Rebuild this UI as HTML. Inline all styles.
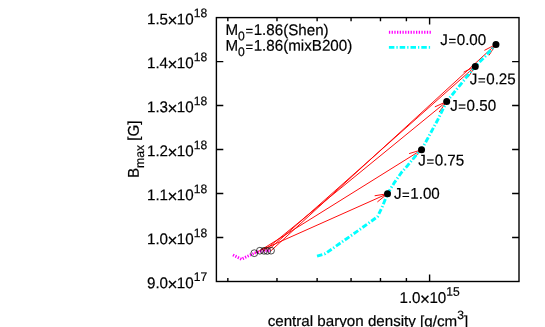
<!DOCTYPE html>
<html><head><meta charset="utf-8"><title>chart</title><style>html,body{margin:0;padding:0;background:#fff}body{width:545px;height:327px;overflow:hidden}</style></head><body>
<svg width="545" height="327" viewBox="0 0 545 327" style="display:block;will-change:transform;text-rendering:geometricPrecision;font-family:'Liberation Sans',sans-serif;font-size:16px">
<rect width="545" height="327" fill="#fff"/>
<g transform="translate(0.15,0.33)">
<path d="M254.15,252.85L387.35,193.4M377.25,201.59L387.35,193.4L374.51,195.45" fill="none" stroke="#ff0000" stroke-width="0.95"/>
<path d="M259.7,250.4L421.4,149.5M412.53,159.00L421.4,149.5L408.97,153.29" fill="none" stroke="#ff0000" stroke-width="0.95"/>
<path d="M263.9,250.5L446.56,101.2M438.97,111.75L446.56,101.2L434.71,106.54" fill="none" stroke="#ff0000" stroke-width="0.95"/>
<path d="M267.1,250.6L475.1,66.05M467.94,76.90L475.1,66.05L463.47,71.87" fill="none" stroke="#ff0000" stroke-width="0.95"/>
<path d="M270.9,250.35L495.8,44.05M488.82,55.02L495.8,44.05L484.27,50.06" fill="none" stroke="#ff0000" stroke-width="0.95"/>
<polyline fill="none" stroke="#ff00ff" stroke-width="2.9" stroke-dasharray="1.3 1.41" points="232.8,254.6 241.3,258.9 246,256.6 254.15,252.85 259.7,250.9 265,250.55 270.9,250.3"/>
<polyline fill="none" stroke="#00ffff" stroke-width="2.9" stroke-linejoin="round" stroke-dasharray="5.5 2 1.3 2" points="316.9,255.7 325,253.4 355.9,231.8 377.4,216.4 379.2,212.6 382.4,205.8 387.35,193.4 394,182.6 401.3,172.2 407.5,165.1 417.6,152.9 421.4,149.5 437.1,120.45 446.56,101.2 475.1,66.05 485,56.1 495.8,44.05"/>
<line x1="388.75" y1="31.97" x2="430.85" y2="31.97" stroke="#ff00ff" stroke-width="2.9" stroke-dasharray="1.3 1.41"/>
<line x1="388.75" y1="47.07" x2="430.05" y2="47.07" stroke="#00ffff" stroke-width="2.9" stroke-dasharray="5.5 2 1.3 2"/>
<circle cx="254.15" cy="252.85" r="3.4" fill="none" stroke="#000" stroke-width="0.7"/>
<circle cx="259.7" cy="250.4" r="3.4" fill="none" stroke="#000" stroke-width="0.7"/>
<circle cx="263.9" cy="250.5" r="3.4" fill="none" stroke="#000" stroke-width="0.7"/>
<circle cx="267.1" cy="250.6" r="3.4" fill="none" stroke="#000" stroke-width="0.7"/>
<circle cx="270.9" cy="250.35" r="3.4" fill="none" stroke="#000" stroke-width="0.7"/>
<circle cx="387.35" cy="193.4" r="3.5" fill="#000"/>
<circle cx="421.4" cy="149.5" r="3.5" fill="#000"/>
<circle cx="446.56" cy="101.2" r="3.5" fill="#000"/>
<circle cx="475.1" cy="66.05" r="3.5" fill="#000"/>
<circle cx="495.8" cy="44.05" r="3.5" fill="#000"/>
</g>
<rect x="216.4" y="17.6" width="302.6" height="263.9" fill="none" stroke="#000" stroke-width="1.4"/>
<path d="M216.4,61.58h6.9M519.0,61.58h-6.9M216.4,105.57h6.9M519.0,105.57h-6.9M216.4,149.55h6.9M519.0,149.55h-6.9M216.4,193.53h6.9M519.0,193.53h-6.9M216.4,237.52h6.9M519.0,237.52h-6.9M227.84,17.6v3.6M227.84,281.5v-3.6M276.98,17.6v3.6M276.98,281.5v-3.6M317.12,17.6v3.6M317.12,281.5v-3.6M351.06,17.6v3.6M351.06,281.5v-3.6M380.47,17.6v3.6M380.47,281.5v-3.6M406.40,17.6v3.6M406.40,281.5v-3.6M429.6,17.6v6.9M429.6,281.5v-6.9" fill="none" stroke="#000" stroke-width="1.4"/>
<text transform="translate(207.2,24.4) rotate(0.03) scale(0.9713,1)" font-size="15.6px" text-anchor="end" stroke="#000" stroke-width="0.2">1.5<tspan font-size="17.55px" dx="-0.58" dy="1.9">×</tspan><tspan dx="-0.58" dy="-1.9">10</tspan><tspan font-size="12.48px" dy="-7.2">18</tspan></text>
<text transform="translate(207.2,68.38) rotate(0.03) scale(0.9713,1)" font-size="15.6px" text-anchor="end" stroke="#000" stroke-width="0.2">1.4<tspan font-size="17.55px" dx="-0.58" dy="1.9">×</tspan><tspan dx="-0.58" dy="-1.9">10</tspan><tspan font-size="12.48px" dy="-7.2">18</tspan></text>
<text transform="translate(207.2,112.37) rotate(0.03) scale(0.9713,1)" font-size="15.6px" text-anchor="end" stroke="#000" stroke-width="0.2">1.3<tspan font-size="17.55px" dx="-0.58" dy="1.9">×</tspan><tspan dx="-0.58" dy="-1.9">10</tspan><tspan font-size="12.48px" dy="-7.2">18</tspan></text>
<text transform="translate(207.2,156.35) rotate(0.03) scale(0.9713,1)" font-size="15.6px" text-anchor="end" stroke="#000" stroke-width="0.2">1.2<tspan font-size="17.55px" dx="-0.58" dy="1.9">×</tspan><tspan dx="-0.58" dy="-1.9">10</tspan><tspan font-size="12.48px" dy="-7.2">18</tspan></text>
<text transform="translate(207.2,200.33) rotate(0.03) scale(0.9713,1)" font-size="15.6px" text-anchor="end" stroke="#000" stroke-width="0.2">1.1<tspan font-size="17.55px" dx="-0.58" dy="1.9">×</tspan><tspan dx="-0.58" dy="-1.9">10</tspan><tspan font-size="12.48px" dy="-7.2">18</tspan></text>
<text transform="translate(207.2,244.32) rotate(0.03) scale(0.9713,1)" font-size="15.6px" text-anchor="end" stroke="#000" stroke-width="0.2">1.0<tspan font-size="17.55px" dx="-0.58" dy="1.9">×</tspan><tspan dx="-0.58" dy="-1.9">10</tspan><tspan font-size="12.48px" dy="-7.2">18</tspan></text>
<text transform="translate(207.2,288.3) rotate(0.03) scale(0.9713,1)" font-size="15.6px" text-anchor="end" stroke="#000" stroke-width="0.2">9.0<tspan font-size="17.55px" dx="-0.58" dy="1.9">×</tspan><tspan dx="-0.58" dy="-1.9">10</tspan><tspan font-size="12.48px" dy="-7.2">17</tspan></text>
<text transform="translate(429.6,303) rotate(0.03) scale(0.9713,1)" font-size="15.6px" text-anchor="middle" stroke="#000" stroke-width="0.2">1.0<tspan font-size="17.55px" dx="-0.58" dy="1.9">×</tspan><tspan dx="-0.58" dy="-1.9">10</tspan><tspan font-size="12.48px" dy="-7.2">15</tspan></text>
<text transform="translate(367.9,326.1) rotate(0.03) scale(1.0101,1)" font-size="15.0px" text-anchor="middle" stroke="#000" stroke-width="0.2">central baryon density [g/cm<tspan font-size="12.00px" dy="-7.2">3</tspan><tspan dy="7.2">]</tspan></text>
<text transform="translate(138.8,149.3) rotate(-89.97) scale(0.9713,1)" font-size="15.6px" text-anchor="middle" stroke="#000" stroke-width="0.2">B<tspan font-size="12.48px" dy="5.3">max</tspan><tspan dy="-5.3"> [G]</tspan></text>
<text transform="translate(225.5,35.1) rotate(0.03) scale(0.9713,1)" font-size="15.6px" text-anchor="start" stroke="#000" stroke-width="0.2">M<tspan font-size="12.48px" dy="5.1">0</tspan><tspan font-size="13.46px" dx="0.62" dy="-4.70">=</tspan><tspan dx="0.62" dy="-0.4">1.86(Shen)</tspan></text>
<text transform="translate(225.5,50.8) rotate(0.03) scale(0.9713,1)" font-size="15.6px" text-anchor="start" stroke="#000" stroke-width="0.2">M<tspan font-size="12.48px" dy="5.1">0</tspan><tspan font-size="13.46px" dx="0.62" dy="-4.70">=</tspan><tspan dx="0.62" dy="-0.4">1.86(mixB200)</tspan></text>
<text transform="translate(440.3,45.1) rotate(0.03) scale(0.9713,1)" font-size="15.6px" text-anchor="start" stroke="#000" stroke-width="0.2">J<tspan font-size="13.46px" dx="0.62" dy="0.40">=</tspan><tspan dx="0.62" dy="-0.4">0.00</tspan></text>
<text transform="translate(469.8,84.3) rotate(0.03) scale(0.9713,1)" font-size="15.6px" text-anchor="start" stroke="#000" stroke-width="0.2">J<tspan font-size="13.46px" dx="0.62" dy="0.40">=</tspan><tspan dx="0.62" dy="-0.4">0.25</tspan></text>
<text transform="translate(450.2,110.7) rotate(0.03) scale(0.9713,1)" font-size="15.6px" text-anchor="start" stroke="#000" stroke-width="0.2">J<tspan font-size="13.46px" dx="0.62" dy="0.40">=</tspan><tspan dx="0.62" dy="-0.4">0.50</tspan></text>
<text transform="translate(418.3,165.6) rotate(0.03) scale(0.9713,1)" font-size="15.6px" text-anchor="start" stroke="#000" stroke-width="0.2">J<tspan font-size="13.46px" dx="0.62" dy="0.40">=</tspan><tspan dx="0.62" dy="-0.4">0.75</tspan></text>
<text transform="translate(393.9,198.8) rotate(0.03) scale(0.9713,1)" font-size="15.6px" text-anchor="start" stroke="#000" stroke-width="0.2">J<tspan font-size="13.46px" dx="0.62" dy="0.40">=</tspan><tspan dx="0.62" dy="-0.4">1.00</tspan></text>
</svg>
</body></html>
